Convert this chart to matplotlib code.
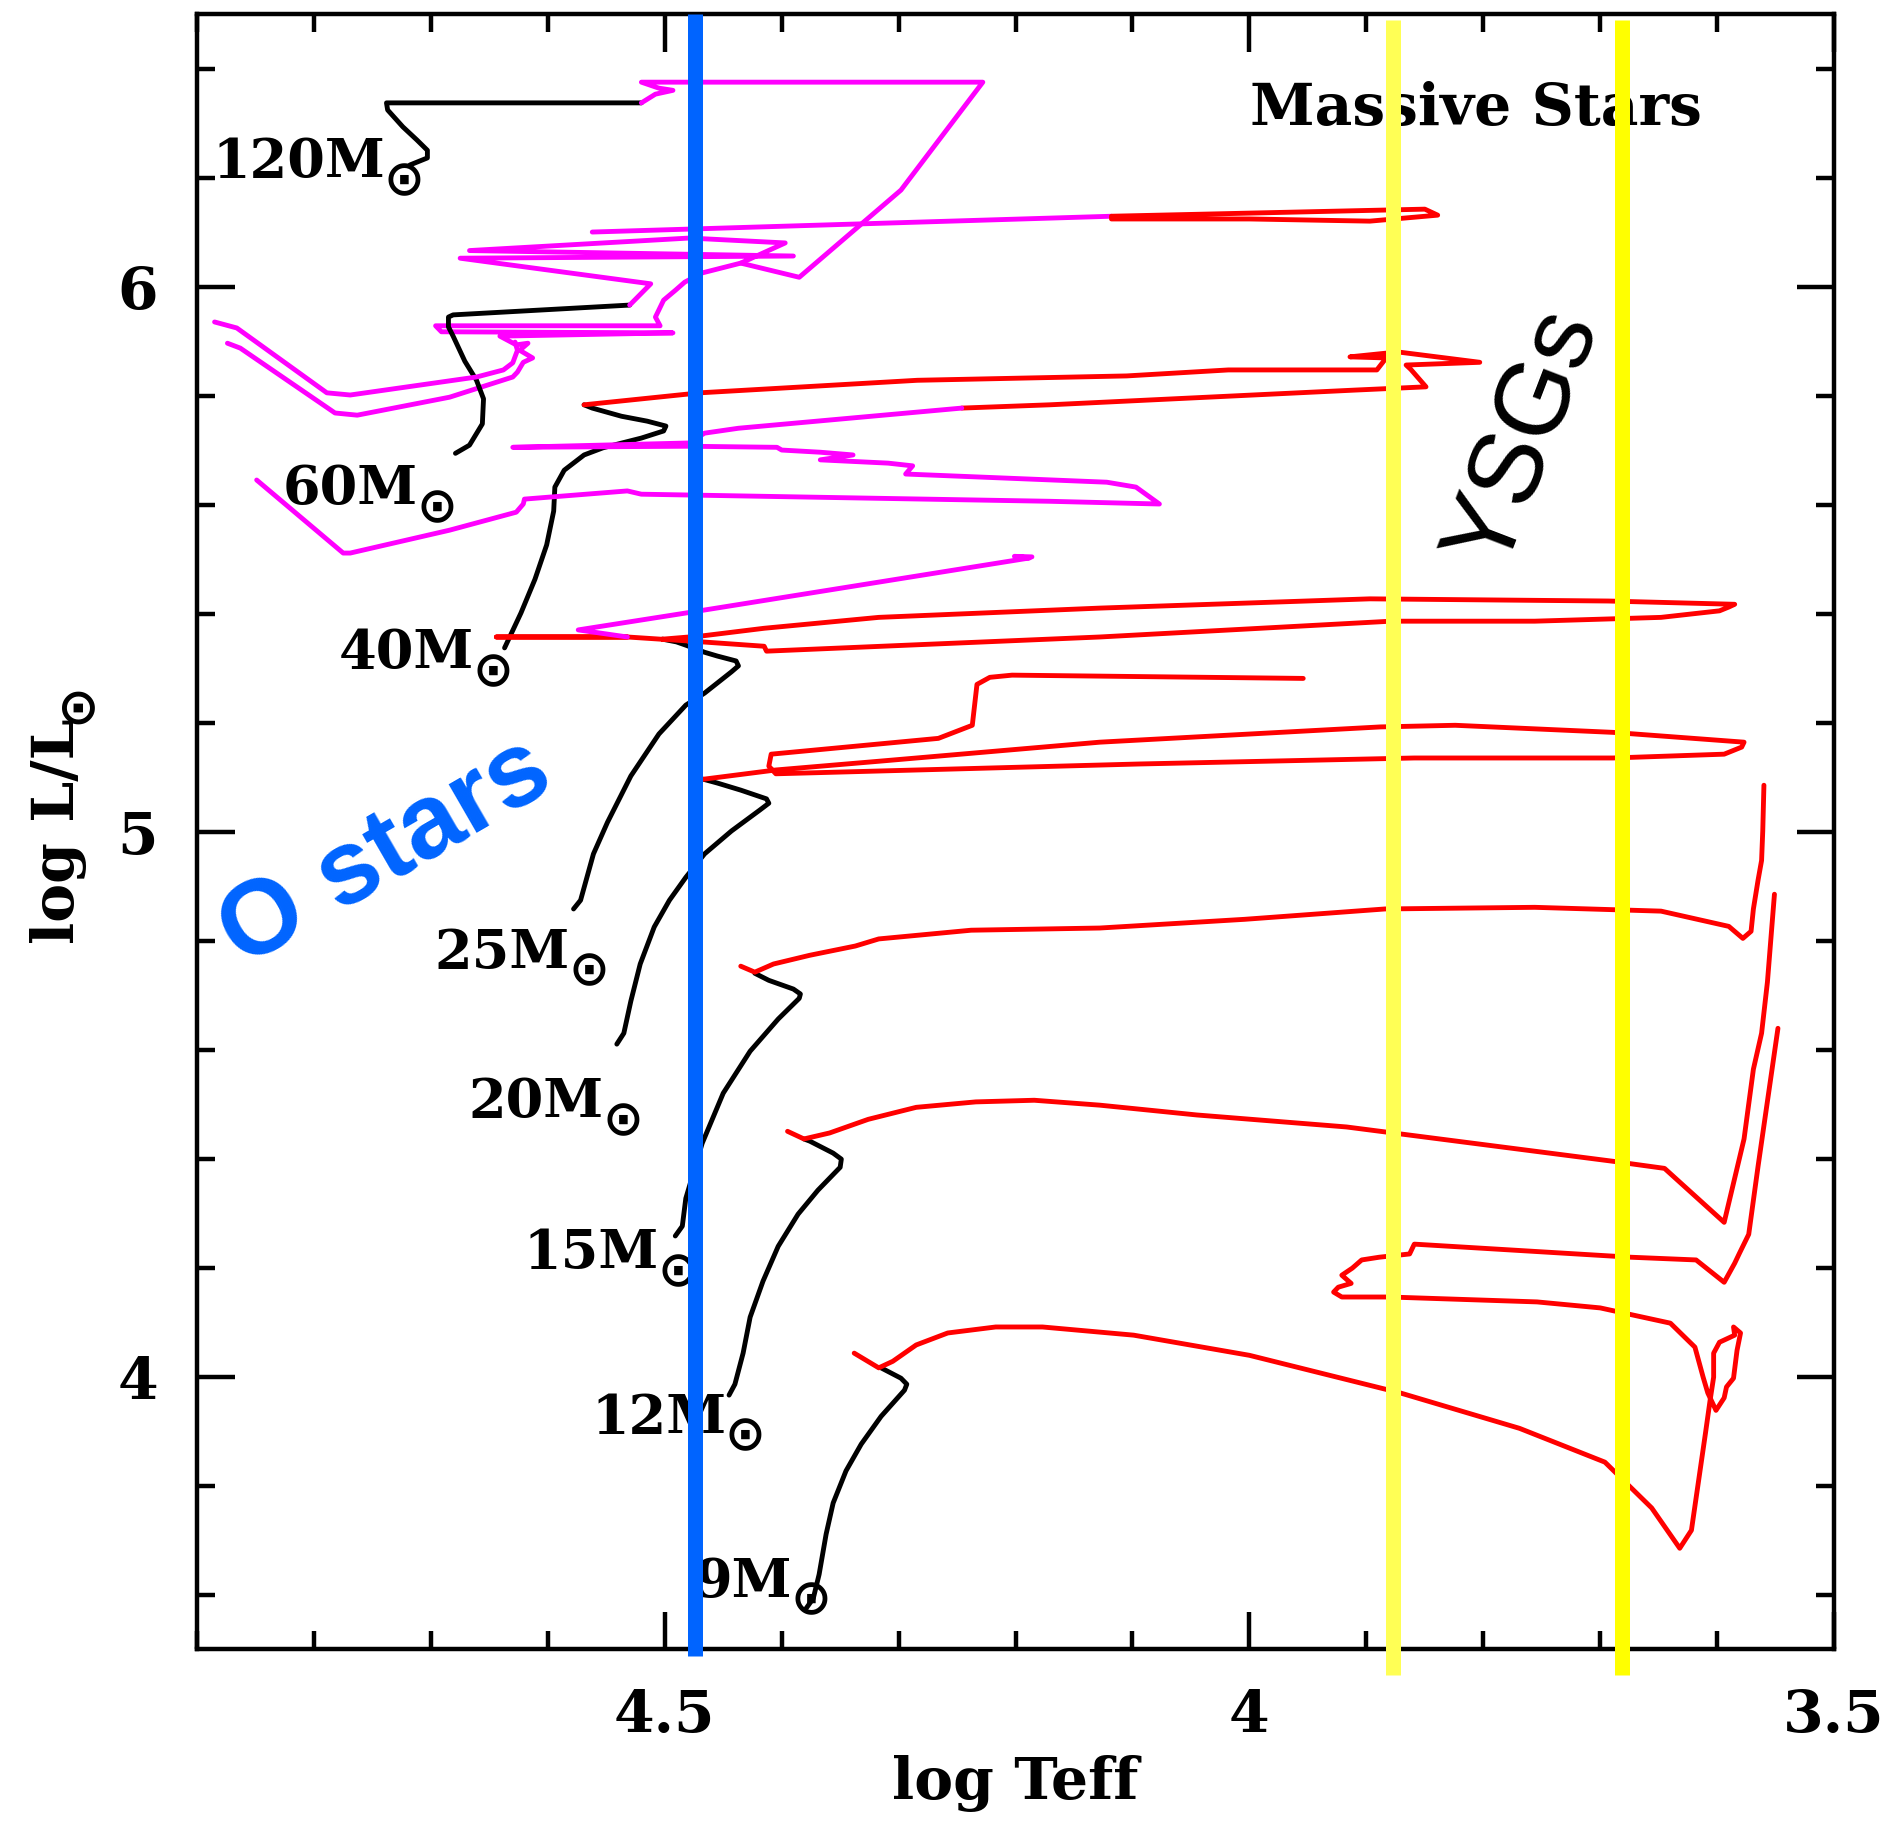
import matplotlib
matplotlib.use("Agg")
import matplotlib.pyplot as plt
from matplotlib.ticker import MultipleLocator, FormatStrFormatter

# HR diagram: evolutionary tracks of massive stars (log Teff, log L/Lsun)
# black = main sequence, red = supergiant excursions, magenta = WR / blueward phases

m120_ms = [(4.718, 6.223), (4.703, 6.236), (4.703, 6.250), (4.712, 6.269), (4.724, 6.293),
           (4.737, 6.324), (4.738, 6.337), (4.520, 6.337)]
m120_wr = [(4.520, 6.337), (4.508, 6.353), (4.493, 6.360), (4.505, 6.364), (4.520, 6.375),
           (4.228, 6.375), (4.298, 6.177), (4.385, 6.017), (4.435, 6.043), (4.468, 6.025),
           (4.483, 6.008), (4.491, 5.993), (4.501, 5.975), (4.508, 5.944), (4.504, 5.928),
           (4.696, 5.928), (4.691, 5.917), (4.493, 5.915), (4.641, 5.909), (4.627, 5.893),
           (4.617, 5.896), (4.624, 5.883), (4.613, 5.869), (4.621, 5.861), (4.626, 5.843),
           (4.630, 5.834), (4.684, 5.797), (4.763, 5.764), (4.782, 5.768), (4.863, 5.887),
           (4.874, 5.896)]

m60_ms = [(4.679, 5.694), (4.667, 5.709), (4.656, 5.748), (4.655, 5.794), (4.661, 5.828),
          (4.671, 5.863), (4.681, 5.909), (4.685, 5.926), (4.685, 5.944), (4.681, 5.948),
          (4.530, 5.966)]
m60_wr = [(4.530, 5.966), (4.524, 5.979), (4.512, 6.005), (4.675, 6.052), (4.390, 6.056),
          (4.667, 6.066), (4.479, 6.089), (4.397, 6.080), (4.435, 6.043)]
m60_wr_out = [(4.562, 6.100), (4.118, 6.129)]
m60_ysg = [(4.118, 6.129), (3.850, 6.142), (3.839, 6.131), (3.897, 6.120), (4.000, 6.124),
           (4.118, 6.124)]
m60_wr_end = [(4.628, 5.898), (4.626, 5.883), (4.630, 5.860), (4.638, 5.847), (4.661, 5.834),
              (4.769, 5.801), (4.789, 5.805), (4.866, 5.924), (4.885, 5.935)]

m40_ms = [(4.637, 5.337), (4.623, 5.401), (4.611, 5.463), (4.601, 5.526), (4.595, 5.588),
          (4.594, 5.632), (4.586, 5.663), (4.569, 5.691), (4.553, 5.704), (4.520, 5.722),
          (4.501, 5.735), (4.499, 5.744), (4.515, 5.753), (4.537, 5.762), (4.562, 5.777),
          (4.569, 5.783)]
m40_rsg = [(4.569, 5.783), (4.470, 5.805), (4.284, 5.828), (4.105, 5.836), (4.018, 5.847),
           (3.891, 5.847), (3.883, 5.869), (3.914, 5.871), (3.873, 5.880), (3.803, 5.861),
           (3.866, 5.856), (3.862, 5.848), (3.849, 5.816), (3.910, 5.810), (4.171, 5.783),
           (4.246, 5.777)]
m40_wr = [(4.246, 5.777), (4.437, 5.740), (4.466, 5.731), (4.479, 5.713), (4.630, 5.705),
          (4.480, 5.707), (4.404, 5.705), (4.400, 5.700), (4.367, 5.696), (4.339, 5.691),
          (4.367, 5.682), (4.309, 5.676), (4.288, 5.671), (4.294, 5.656), (4.122, 5.641),
          (4.097, 5.632), (4.077, 5.601), (4.171, 5.606), (4.520, 5.619), (4.532, 5.625),
          (4.620, 5.610), (4.621, 5.601), (4.627, 5.586), (4.684, 5.553), (4.769, 5.511),
          (4.775, 5.511), (4.849, 5.645)]

m25_ms = [(4.578, 4.858), (4.572, 4.874), (4.561, 4.959), (4.549, 5.017), (4.529, 5.102),
          (4.505, 5.179), (4.482, 5.232), (4.466, 5.254), (4.443, 5.293), (4.437, 5.304),
          (4.439, 5.313), (4.455, 5.322), (4.466, 5.329), (4.482, 5.342), (4.490, 5.348),
          (4.502, 5.353)]
m25_rsg = [(4.502, 5.353), (4.468, 5.359), (4.415, 5.373), (4.317, 5.393), (4.128, 5.410),
           (3.897, 5.427), (3.693, 5.423), (3.585, 5.417), (3.590, 5.412), (3.598, 5.405),
           (3.648, 5.393), (3.756, 5.386), (3.879, 5.386), (4.128, 5.357), (4.413, 5.331),
           (4.415, 5.340), (4.468, 5.348), (4.532, 5.357), (4.644, 5.357), (4.532, 5.357)]
m25_wr = [(4.532, 5.357), (4.574, 5.370), (4.482, 5.401), (4.188, 5.502), (4.201, 5.505),
          (4.186, 5.504)]

m20_ms = [(4.541, 4.610), (4.535, 4.630), (4.529, 4.689), (4.521, 4.757), (4.509, 4.825),
          (4.496, 4.874), (4.482, 4.916), (4.466, 4.959), (4.443, 5.001), (4.419, 5.039),
          (4.411, 5.052), (4.413, 5.060), (4.435, 5.076), (4.455, 5.089), (4.467, 5.096)]
m20_rsg = [(4.467, 5.096), (4.405, 5.113), (4.317, 5.129), (4.128, 5.164), (3.888, 5.192),
           (3.824, 5.195), (3.689, 5.182), (3.577, 5.164), (3.579, 5.155), (3.594, 5.142),
           (3.689, 5.135), (3.859, 5.135), (4.094, 5.124), (4.405, 5.106), (4.411, 5.120),
           (4.409, 5.142), (4.266, 5.171), (4.237, 5.195), (4.233, 5.270), (4.222, 5.283),
           (4.203, 5.287), (3.954, 5.281)]

m15_ms = [(4.491, 4.258), (4.485, 4.276), (4.482, 4.327), (4.468, 4.428), (4.450, 4.520),
          (4.427, 4.597), (4.403, 4.656), (4.385, 4.694), (4.384, 4.702), (4.390, 4.711),
          (4.411, 4.727), (4.423, 4.740)]
m15_rsg = [(4.435, 4.753), (4.423, 4.742), (4.407, 4.757), (4.376, 4.773), (4.337, 4.790),
           (4.317, 4.803), (4.238, 4.819), (4.128, 4.823), (4.004, 4.839), (3.884, 4.858),
           (3.756, 4.861), (3.648, 4.854), (3.590, 4.826), (3.578, 4.804), (3.571, 4.817),
           (3.569, 4.858), (3.565, 4.911), (3.562, 4.947), (3.561, 5.001), (3.560, 5.085)]

m12_ms = [(4.445, 3.966), (4.440, 3.986), (4.433, 4.043), (4.427, 4.109), (4.416, 4.175),
          (4.403, 4.239), (4.386, 4.298), (4.369, 4.342), (4.350, 4.384), (4.349, 4.399),
          (4.356, 4.410), (4.376, 4.432), (4.381, 4.436)]
m12_rsg = [(4.395, 4.450), (4.381, 4.436), (4.359, 4.447), (4.326, 4.472), (4.285, 4.494),
           (4.234, 4.504), (4.184, 4.507), (4.128, 4.498), (4.045, 4.480), (3.917, 4.458),
           (3.689, 4.395), (3.645, 4.382), (3.594, 4.283), (3.577, 4.436), (3.569, 4.564),
           (3.562, 4.630), (3.557, 4.724), (3.551, 4.885)]

m9_ms = [(4.379, 3.575), (4.373, 3.593), (4.368, 3.637), (4.362, 3.711), (4.356, 3.768),
         (4.345, 3.827), (4.332, 3.876), (4.315, 3.927), (4.295, 3.975), (4.293, 3.986),
         (4.298, 3.997), (4.315, 4.016)]
m9_rsg = [(4.338, 4.043), (4.317, 4.016), (4.305, 4.028), (4.285, 4.058), (4.258, 4.080),
          (4.217, 4.091), (4.177, 4.091), (4.099, 4.076), (4.000, 4.039), (3.871, 3.970),
          (3.769, 3.905), (3.696, 3.843), (3.676, 3.801), (3.656, 3.759), (3.632, 3.685),
          (3.622, 3.718), (3.610, 3.896), (3.606, 3.957), (3.603, 3.999), (3.603, 4.043),
          (3.598, 4.063), (3.585, 4.076), (3.586, 4.091), (3.580, 4.080), (3.583, 4.048),
          (3.586, 3.997), (3.592, 3.981), (3.594, 3.961), (3.601, 3.938), (3.608, 3.970),
          (3.612, 3.999), (3.619, 4.054), (3.640, 4.098), (3.700, 4.126), (3.754, 4.137),
          (3.880, 4.146), (3.921, 4.146), (3.928, 4.155), (3.924, 4.164), (3.913, 4.171),
          (3.921, 4.186), (3.912, 4.199), (3.904, 4.214), (3.889, 4.219), (3.863, 4.225),
          (3.859, 4.243), (3.674, 4.219), (3.618, 4.214), (3.594, 4.173), (3.585, 4.208),
          (3.581, 4.226), (3.573, 4.261), (3.565, 4.386), (3.556, 4.520), (3.548, 4.639)]

# mass labels: (text, log Teff, log L) of the left/baseline corner
mass_labels = [("120", 4.887, 6.199), ("60", 4.827, 5.599), ("40", 4.779, 5.298),
               ("25", 4.697, 4.748), ("20", 4.668, 4.474), ("15", 4.621, 4.197),
               ("12", 4.563, 3.895), ("9", 4.475, 3.594)]

o_star_teff = 4.474
ysg_teff = [3.877, 3.681]

BLK, RED, MAG = "black", "#ff0000", "#ff00ff"
BLUE = "#0064ff"
SUN = "\u2299"

pieces = [
    (m120_ms, BLK), (m120_wr, MAG),
    (m60_ms, BLK), (m60_wr, MAG), (m60_wr_out, MAG), (m60_ysg, RED), (m60_wr_end, MAG),
    (m40_ms, BLK), (m40_rsg, RED), (m40_wr, MAG),
    (m25_ms, BLK), (m25_rsg, RED), (m25_wr, MAG),
    (m20_ms, BLK), (m20_rsg, RED),
    (m15_ms, BLK), (m15_rsg, RED),
    (m12_ms, BLK), (m12_rsg, RED),
    (m9_ms, BLK), (m9_rsg, RED),
]

plt.rcParams['font.family'] = ['DejaVu Serif', 'DejaVu Sans']
plt.rcParams['font.weight'] = 'bold'

fig = plt.figure(figsize=(18.91, 18.23), dpi=100)
ax = fig.add_axes([0.1042, 0.0954, 0.8657, 0.8969])

for pts, col in pieces:
    xs, ys = zip(*pts)
    ax.plot(xs, ys, color=col, lw=3.5, solid_joinstyle='round',
            solid_capstyle='round', zorder=2)


def add_sun(anchor, xy, offset, size, rot=0, ha='left'):
    # solar symbol hung below the baseline of another text
    return ax.annotate(SUN, xy=xy, xycoords=anchor, xytext=offset,
                       textcoords='offset points', fontsize=size,
                       family='DejaVu Sans', weight='bold', rotation=rot,
                       ha=ha, va='center', zorder=2.5)


for m, x, y in mass_labels:
    t = ax.text(x, y, m + "M", fontsize=39, ha='left', va='baseline', zorder=2.5)
    add_sun(t, (1, 0), (-1, 6), 35)

ax.text(3.806, 6.296, "Massive Stars", fontsize=42, ha='center', va='baseline', zorder=3)
ax.text(4.738, 4.959, "O stars", fontsize=76, fontfamily='Liberation Sans',
        fontweight='bold', color=BLUE, rotation=30, rotation_mode='anchor',
        ha='center', va='center', zorder=3)
ax.text(3.764, 5.720, "YSGs", fontsize=74, fontfamily='Liberation Sans',
        fontweight='normal', rotation=69, rotation_mode='anchor',
        ha='center', va='center', zorder=3)

# O-star boundary and the yellow supergiant strip
ax.plot([o_star_teff, o_star_teff], [3.487, 6.5], color=BLUE, lw=10.8,
        solid_capstyle='butt', clip_on=False, zorder=4)
ax.plot([ysg_teff[0]] * 2, [3.452, 6.489], color="#ffff55", lw=10.8,
        solid_capstyle='butt', clip_on=False, zorder=4)
ax.plot([ysg_teff[1]] * 2, [3.452, 6.489], color="#ffff00", lw=10.8,
        solid_capstyle='butt', clip_on=False, zorder=4)

ax.set_xlim(4.9, 3.5)
ax.set_ylim(3.5, 6.5)
ax.xaxis.set_major_locator(MultipleLocator(0.5))
ax.xaxis.set_minor_locator(MultipleLocator(0.1))
ax.yaxis.set_major_locator(MultipleLocator(1))
ax.yaxis.set_minor_locator(MultipleLocator(0.2))
ax.xaxis.set_major_formatter(FormatStrFormatter('%g'))
ax.yaxis.set_major_formatter(FormatStrFormatter('%g'))
ax.tick_params(which='both', direction='in', top=True, right=True, width=3.2,
               labelsize=42, pad=28)
ax.tick_params(which='major', length=27)
ax.tick_params(which='minor', length=13)
for sp in ax.spines.values():
    sp.set_linewidth(3.2)

ax.set_xlabel("log Teff", fontsize=42, fontweight='bold', labelpad=8)
ax.set_ylabel("log L/L", fontsize=42, fontweight='bold', labelpad=22)
add_sun(ax.yaxis.label, (1, 1), (-8, 11), 36, rot=90, ha='center')

fig.savefig("out.png", dpi=100)
